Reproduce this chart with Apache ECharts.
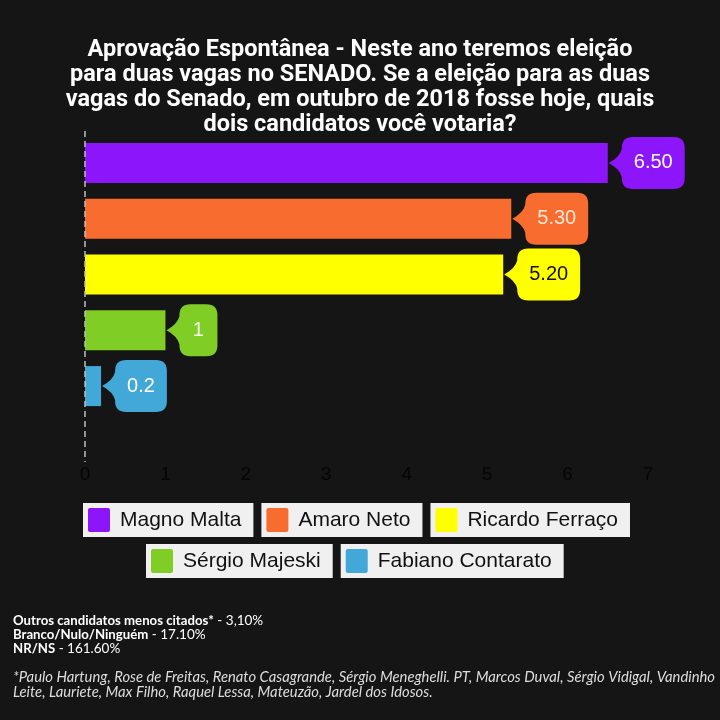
<!DOCTYPE html>
<html><head><meta charset="utf-8">
<script src="https://cdn.jsdelivr.net/npm/echarts@6/dist/echarts.min.js"></script>
<style>html,body{margin:0;padding:0;background:#151515}#c{width:720px;height:720px}</style>
</head><body><div id="c"></div>
<script>
const candidates = ['Magno Malta', 'Amaro Neto', 'Ricardo Ferraço', 'Sérgio Majeski', 'Fabiano Contarato'];
const values = [6.5, 5.3, 5.2, 1, 0.2];
const valueLabels = ['6.50', '5.30', '5.20', '1', '0.2'];
const xTicks = [0, 1, 2, 3, 4, 5, 6, 7];
const statLines = [
  ['Outros candidatos menos citados*', '3,10%'],
  ['Branco/Nulo/Ninguém', '17.10%'],
  ['NR/NS', '161.60%']
];
const footnote = '*Paulo Hartung, Rose de Freitas, Renato Casagrande, Sérgio Meneghelli. PT, Marcos Duval, Sérgio Vidigal, Vandinho\nLeite, Lauriete, Max Filho, Raquel Lessa, Mateuzão, Jardel dos Idosos.';
const titleText = 'Aprovação Espontânea - Neste ano teremos eleição\npara duas vagas no SENADO. Se a eleição para as duas\nvagas do Senado, em outubro de 2018 fosse hoje, quais\ndois candidatos você votaria?';

const colors = ['#8c15fa', '#f96c30', '#ffff00', '#7fcd25', '#41a8d8'];
const labelTextColors = ['#ffffff', '#fbe6d6', '#111111', '#f4ffe8', '#ffffff'];

const chart = echarts.init(document.getElementById('c'));
const measure = document.createElement('canvas').getContext('2d');
measure.font = '20px "Liberation Sans", Arial';

const barSeries = candidates.map((name, i) => ({
  name: name,
  type: 'bar',
  stack: 'all',
  barWidth: 40,
  itemStyle: { color: colors[i] },
  data: candidates.map((c, j) => j === i ? values[i] : '-')
}));

const bubbleSeries = {
  type: 'custom',
  clip: false,
  z: 5,
  data: values.map((v, i) => [v, i]),
  renderItem: function (params, api) {
    const i = params.dataIndex;
    const p = api.coord([api.value(0), api.value(1)]);
    const tip = p[0] + 1, cy = p[1];
    const text = valueLabels[i];
    const tw = measure.measureText(text).width;
    const w = Math.max(38, tw + 24), h = 52, r = 11;
    const bx = tip + 13, by = cy - h / 2;
    const d = `M${tip} ${cy} Q${bx - 2} ${cy - 6} ${bx} ${cy - 14} L${bx} ${by + r} Q${bx} ${by} ${bx + r} ${by} L${bx + w - r} ${by} Q${bx + w} ${by} ${bx + w} ${by + r} L${bx + w} ${by + h - r} Q${bx + w} ${by + h} ${bx + w - r} ${by + h} L${bx + r} ${by + h} Q${bx} ${by + h} ${bx} ${by + h - r} L${bx} ${cy + 14} Q${bx - 2} ${cy + 6} ${tip} ${cy} Z`;
    return {
      type: 'group',
      children: [
        { type: 'path', shape: { pathData: d }, style: { fill: colors[i] } },
        { type: 'text', style: { text: text, x: bx + w / 2, y: cy, align: 'center', verticalAlign: 'middle',
          fill: labelTextColors[i], font: '20px "Liberation Sans", Arial' } }
      ]
    };
  }
};

const rich = { t: { fontSize: 21, color: '#111', fontFamily: '"Liberation Sans", Arial', padding: [0, 0, 0, 10] } };
candidates.forEach((c, i) => { rich['s' + i] = { backgroundColor: colors[i], width: 22, height: 24, borderRadius: 2 }; });
function legendFmt(name) { return `{s${candidates.indexOf(name)}|}{t|${name}}`; }
function legendCfg(names, left, top) {
  return {
    data: names, left: left, top: top, orient: 'horizontal', icon: 'none',
    itemWidth: 0, itemHeight: 0, itemGap: 3, formatter: legendFmt, selectedMode: false,
    textStyle: { backgroundColor: '#f0f0f0', padding: [5, 12, 5, 5], rich: rich }
  };
}

const statText = statLines.map(l => `{b|${l[0]}} - ${l[1]}`).join('\n');

chart.setOption({
  backgroundColor: '#151515',
  animation: false,
  title: [
    { text: titleText, left: 'center', top: 33,
      textStyle: { color: '#fff', fontFamily: 'Roboto', fontWeight: 'bold', fontSize: 23.5, lineHeight: 25 } },
    { text: statText, left: 8, top: 609,
      textStyle: { color: '#fff', fontFamily: 'Lato', fontWeight: 'normal', fontSize: 13.5, lineHeight: 14,
        rich: { b: { fontWeight: 'bold', fontFamily: 'Lato', fontSize: 13.2, color: '#fff' } } } },
    { text: footnote, left: 8, top: 665,
      textStyle: { color: '#ddd', fontFamily: 'Lato', fontStyle: 'italic', fontWeight: 'normal', fontSize: 14.8, lineHeight: 15 } }
  ],
  legend: [legendCfg(candidates.slice(0, 3), 73, 498), legendCfg(candidates.slice(3), 136, 539)],
  grid: { left: 85, right: 72, top: 135, height: 279 },
  xAxis: {
    type: 'value', min: xTicks[0], max: xTicks[xTicks.length - 1], interval: 1,
    splitLine: { show: false }, axisLine: { show: false }, axisTick: { show: false },
    axisLabel: { color: '#050505', fontSize: 19, margin: 51, fontFamily: '"Liberation Sans", Arial' }
  },
  yAxis: {
    type: 'category', data: candidates, inverse: true,
    axisLine: { show: false }, axisTick: { show: false }, axisLabel: { show: false }
  },
  series: barSeries.concat([bubbleSeries])
});

const x0 = chart.convertToPixel({ xAxisIndex: 0 }, 0);
chart.setOption({
  graphic: [{ type: 'line', z: 10, shape: { x1: x0, y1: 131, x2: x0, y2: 462 },
    style: { stroke: '#bdbdbd', lineWidth: 1.5, lineDash: [6, 4] } }]
});
</script></body></html>
